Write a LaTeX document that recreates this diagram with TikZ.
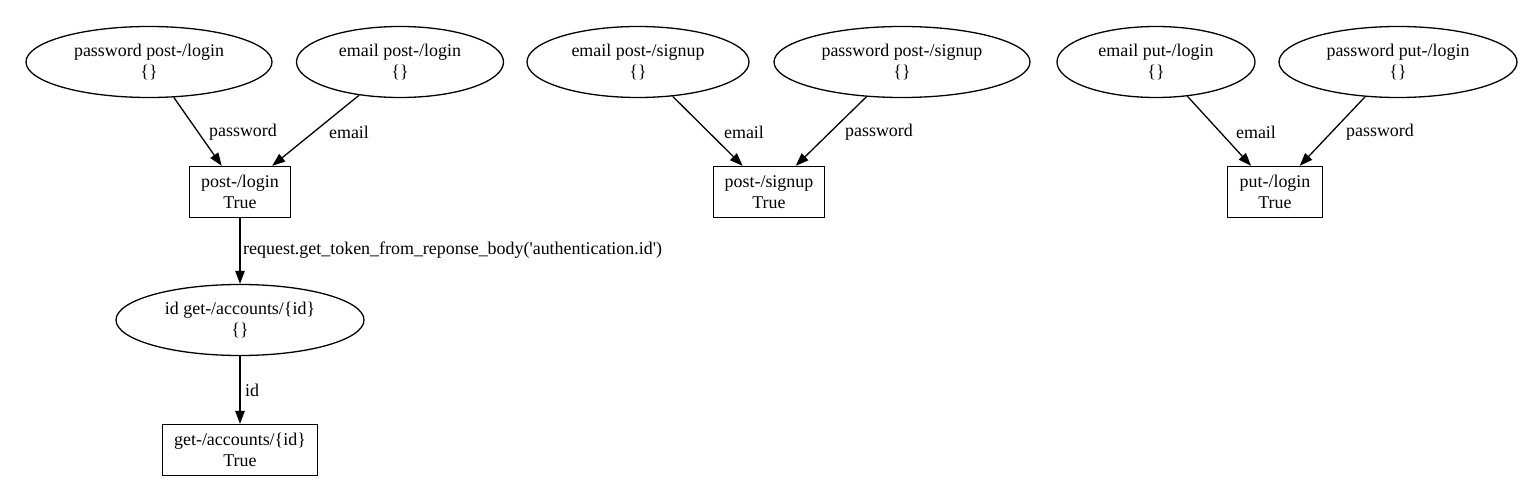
\documentclass[tikz,border=0pt]{standalone}
\usepackage{fontspec}
\setmainfont{Liberation Serif}
\usetikzlibrary{arrows.meta,shapes.geometric}
\tikzset{
  gvfont/.style={font=\fontsize{18}{21}\selectfont},
  oval/.style={ellipse,draw,line width=1.3bp,gvfont,align=center,inner sep=0pt,minimum height=71bp},
  recbox/.style={rectangle,draw,line width=1.3bp,gvfont,align=center,inner sep=0pt,minimum height=51bp},
  conn/.style={line width=1.3bp,-{Triangle[length=13bp,width=9.5bp]}},
  lbl/.style={gvfont,inner sep=0pt}
}
\begin{document}
\begin{tikzpicture}[x=1bp,y=-1bp]
\useasboundingbox (0,0) rectangle (1540,502);
% top ellipses
\node[oval,minimum width=246bp] (e1) at (149,62) {password post-/login\\\{\}};
\node[oval,minimum width=207bp] (e2) at (400,62) {email post-/login\\\{\}};
\node[oval,minimum width=222bp] (e3) at (638,62) {email post-/signup\\\{\}};
\node[oval,minimum width=256bp] (e4) at (902,62) {password post-/signup\\\{\}};
\node[oval,minimum width=198bp] (e5) at (1156,62) {email put-/login\\\{\}};
\node[oval,minimum width=238bp] (e6) at (1398,62) {password put-/login\\\{\}};
% boxes
\node[recbox,minimum width=101bp] (b1) at (240,192) {post-/login\\True};
\node[recbox,minimum width=111bp] (b2) at (769,192) {post-/signup\\True};
\node[recbox,minimum width=95bp] (b3) at (1275,192) {put-/login\\True};
\node[oval,minimum width=248bp] (e7) at (240,320) {id get-/accounts/\{id\}\\\{\}};
\node[recbox,minimum width=155bp] (b4) at (240,450) {get-/accounts/\{id\}\\True};
% edges
\draw[conn] (e1) -- (b1);
\draw[conn] (e2) -- (b1);
\draw[conn] (e3) -- (b2);
\draw[conn] (e4) -- (b2);
\draw[conn] (e5) -- (b3);
\draw[conn] (e6) -- (b3);
\draw[conn] (b1) -- (e7);
\draw[conn] (e7) -- (b4);
% edge labels
\node[lbl] (l1) at (243,132) {password};
\node[lbl] (l2) at (349,132) {email};
\node[lbl] (l3) at (744,132) {email};
\node[lbl] (l4) at (879,132) {password};
\node[lbl] (l5) at (1256,132) {email};
\node[lbl] (l6) at (1380,132) {password};
\node[lbl,anchor=west] (l7) at (243,250) {request.get\_token\_from\_reponse\_body(\textquotesingle authentication.id\textquotesingle)};
\node[lbl,anchor=west] (l8) at (245,390) {id};
\end{tikzpicture}
\end{document}
